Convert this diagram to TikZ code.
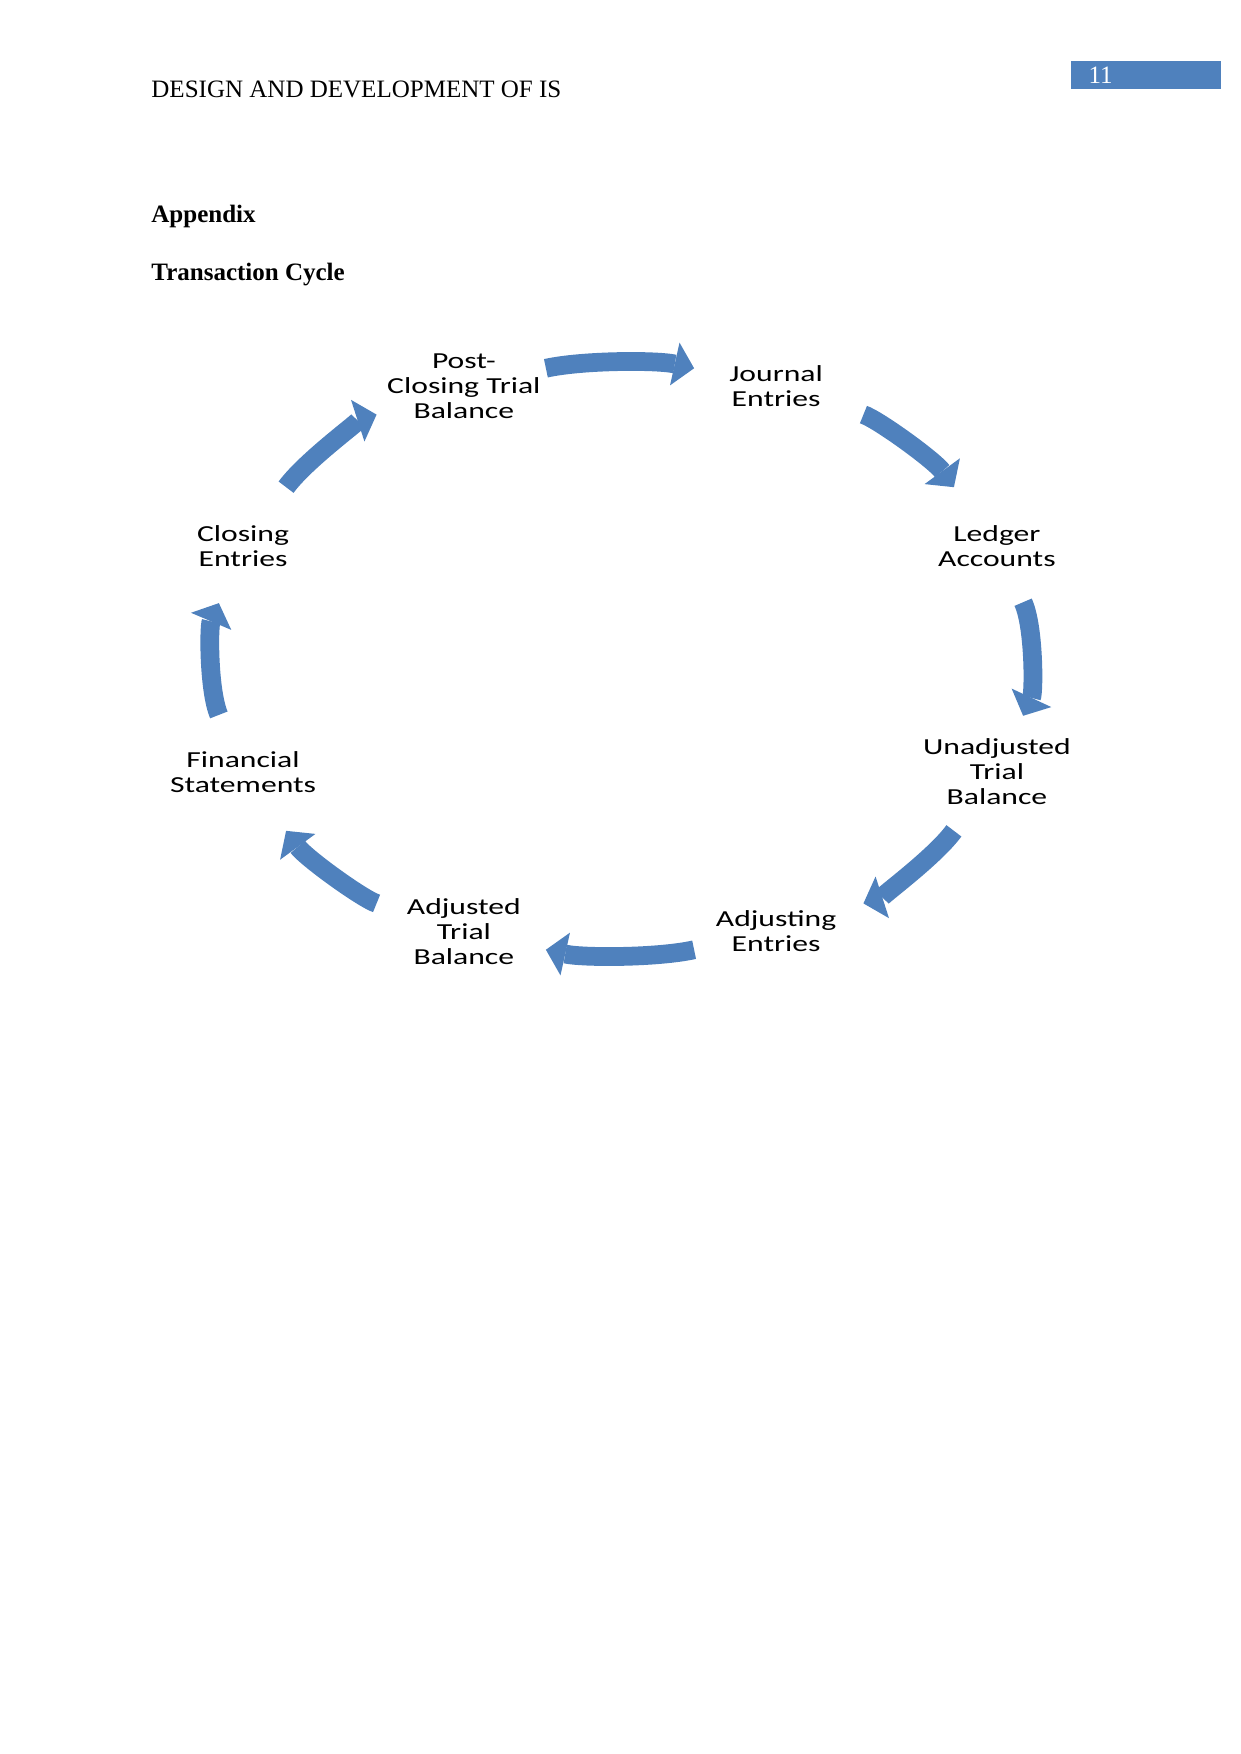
\documentclass[tikz,border=0pt]{standalone}
\usepackage{fontspec}
\setmainfont{Liberation Serif}
\newfontfamily\cyclefont[FakeStretch=1.38]{Carlito}
\usepackage{xcolor}
\usepackage{tikz}
\usetikzlibrary{arrows.meta}
\definecolor{cycleblue}{RGB}{79,129,189}

\begin{document}
\begin{tikzpicture}[
    x=0.47968pt, y=-0.47968pt,
    head/.style={anchor=base west, inner sep=0pt, font=\fontsize{12}{14}\selectfont},
    title/.style={head, font=\fontsize{12}{14}\selectfont\bfseries},
    pagebox/.style={fill=cycleblue, text=white, anchor=north west, inner xsep=8.2pt, inner ysep=0pt, text width=55.56pt, minimum height=13.29pt, align=left, font=\fontsize{12}{14}\selectfont},
    stage/.style={align=center, inner sep=0pt, font=\cyclefont\fontsize{11}{12}\selectfont},
    cyc/.style={draw=cycleblue, line width=9pt, -{Triangle[width=21pt, length=9.5pt, line width=0pt]}}
]
\useasboundingbox (0,0) rectangle (1241,1754);
\node[head] (header) at (151,97.3) {DESIGN AND DEVELOPMENT OF IS};
\node[pagebox] (pagenum) at (1071,61) {11};
\node[title] (appendix) at (151,222) {Appendix};
\node[title] (cycletitle) at (151,280) {Transaction Cycle};

\begin{scope}[shift={(620,659)}, x=195.71pt, y=141.51pt]
\node[stage] (post) at (112.5:1) {Post-\\Closing Trial\\Balance};
\node[stage] (journal) at (67.5:1) {Journal\\Entries};
\node[stage] (ledger) at (22.5:1) {Ledger\\Accounts};
\node[stage] (unadjusted) at (-22.5:1) {Unadjusted\\Trial\\Balance};
\node[stage] (adjusting) at (-67.5:1) {Adjusting\\Entries};
\node[stage] (adjusted) at (-112.5:1) {Adjusted\\Trial\\Balance};
\node[stage] (financial) at (-157.5:1) {Financial\\Statements};
\node[stage] (closing) at (157.5:1) {Closing\\Entries};
\end{scope}

\draw[cyc, shorten <=40.3pt, shorten >=40.3pt] (post.center) to[bend left=12.5] (journal.center);
\draw[cyc, shorten <=44pt, shorten >=35pt] (journal.center) to[bend left=18] (ledger.center);
\draw[cyc, shorten <=29.7pt, shorten >=29.7pt] (ledger.center) to[bend left=25] (unadjusted.center);
\draw[cyc, shorten <=35pt, shorten >=44pt] (unadjusted.center) to[bend left=18] (adjusting.center);
\draw[cyc, shorten <=40.3pt, shorten >=40.3pt] (adjusting.center) to[bend left=12.5] (adjusted.center);
\draw[cyc, shorten <=44pt, shorten >=35pt] (adjusted.center) to[bend left=18] (financial.center);
\draw[cyc, shorten <=29.7pt, shorten >=29.7pt] (financial.center) to[bend left=23] (closing.center);
\draw[cyc, shorten <=35pt, shorten >=44pt] (closing.center) to[bend left=18] (post.center);
\end{tikzpicture}
\end{document}
